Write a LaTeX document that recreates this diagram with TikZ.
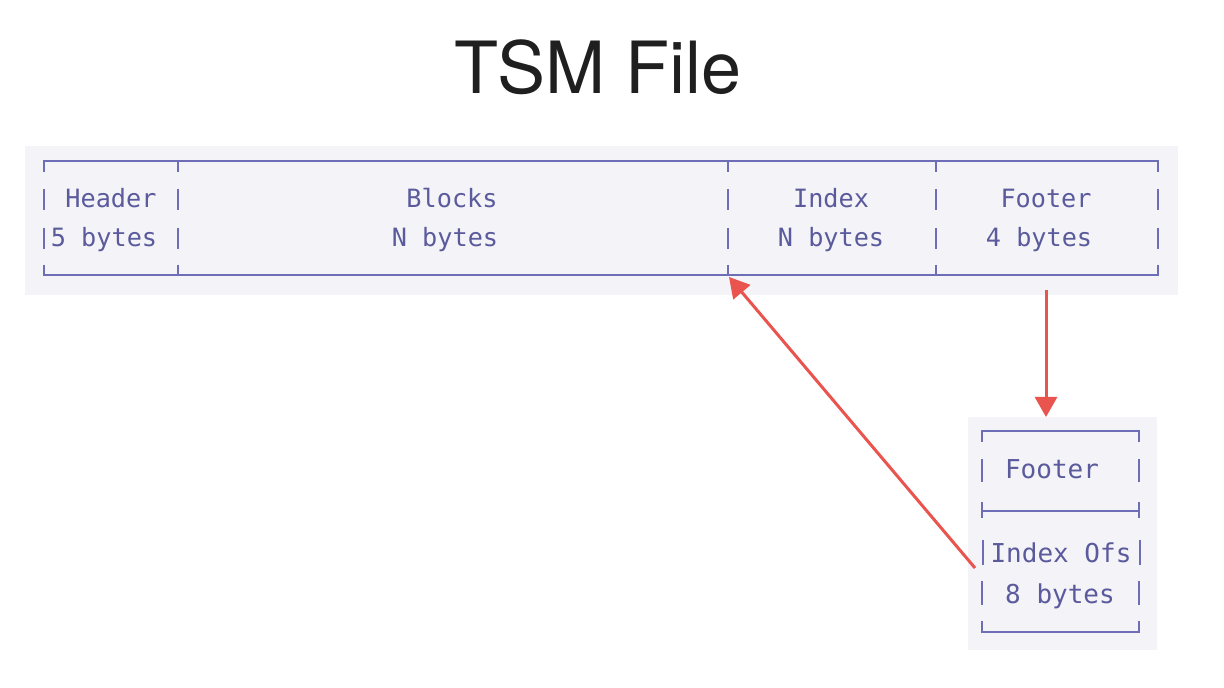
\documentclass[tikz,border=0pt]{standalone}
\usepackage{fontspec}
\setmainfont{TeX Gyre Heros}
\newfontfamily\monofont{DejaVu Sans Mono}
\usetikzlibrary{arrows.meta}
\definecolor{panel}{HTML}{F3F3F8}
\definecolor{frame}{HTML}{6E6EB6}
\definecolor{label}{HTML}{5A5A9C}
\definecolor{pointer}{HTML}{E9544F}
\tikzset{
  rule/.style={draw=frame, line width=1.4pt},
  field/.style={text=label, font=\monofont\fontsize{12.6}{14}\selectfont, anchor=base, inner sep=0pt},
  smallfield/.style={field, font=\monofont\fontsize{13}{15}\selectfont},
  link/.style={draw=pointer, line width=1.5pt, -{Triangle[length=10pt,width=11pt]}},
}
\begin{document}
\begin{tikzpicture}[x=0.5pt,y=-0.5pt]
\useasboundingbox (0,0) rectangle (1224,688);
\fill[white] (0,0) rectangle (1224,688);

% title
\node[anchor=base, inner sep=0pt, font=\fontsize{36}{42}\selectfont, text=black!88] (title) at (598,94) {TSM File};

% panels
\fill[panel] (25,146) rectangle (1178,295);
\fill[panel] (968,417) rectangle (1157,650);

% file layout: top and bottom rules with ticks
\draw[rule] (44,172) -- (44,161) -- (1158,161) -- (1158,172);
\foreach \x in {178,728,936} \draw[rule] (\x,161) -- (\x,172);
\draw[rule] (44,265) -- (44,275) -- (1158,275) -- (1158,265);
\foreach \x in {178,728,936} \draw[rule] (\x,275) -- (\x,265);
% separators in each text row
\foreach \x in {44,178,728,936,1158} {
  \draw[rule] (\x,189) -- (\x,210);
  \draw[rule] (\x,228) -- (\x,249);
}

\node[field] (hdr) at (111,208) {Header};
\node[field] (hdrsz) at (104,247) {5 bytes};
\node[field] (blk) at (452,208) {Blocks};
\node[field] (blksz) at (445,247) {N bytes};
\node[field] (idx) at (831,208) {Index};
\node[field] (idxsz) at (831,247) {N bytes};
\node[field] (ftr) at (1046,208) {Footer};
\node[field] (ftrsz) at (1039,247) {4 bytes};

% footer layout
\draw[rule] (982,442) -- (982,431) -- (1139,431) -- (1139,442);
\draw[rule] (982,459) -- (982,482);
\draw[rule] (1139,459) -- (1139,482);
\draw[rule] (982,502) -- (982,518);
\draw[rule] (1139,502) -- (1139,518);
\draw[rule] (982,511) -- (1139,511);
\draw[rule] (983,540) -- (983,565);
\draw[rule] (1140,540) -- (1140,565);
\draw[rule] (982,581) -- (982,605);
\draw[rule] (1139,581) -- (1139,605);
\draw[rule] (982,621) -- (982,632) -- (1139,632) -- (1139,621);

\node[smallfield] (fbox) at (1052,479) {Footer};
\node[smallfield] (ofs) at (1061,562) {Index Ofs};
\node[smallfield] (ofssz) at (1060,603) {8 bytes};

% pointers
\coordinate (ftrout) at (1046,290);
\coordinate (ftrin) at (1046,417);
\coordinate (ofsout) at (975,568);
\coordinate (idxin) at (729,277);
\draw[link] (ftrout) -- (ftrin);
\draw[link] (ofsout) -- (idxin);
\end{tikzpicture}
\end{document}
